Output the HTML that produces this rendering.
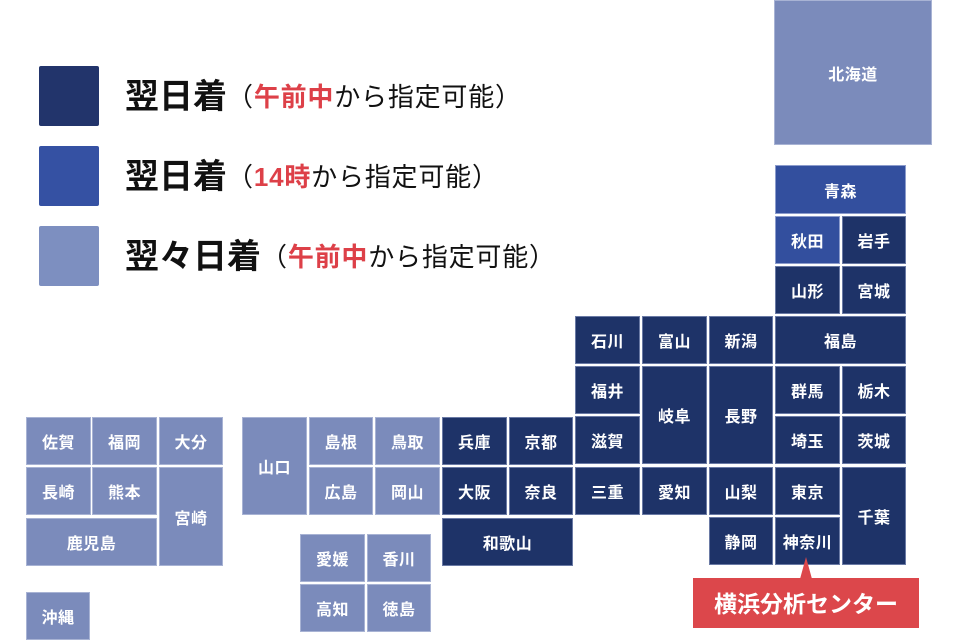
<!DOCTYPE html>
<html><head><meta charset="utf-8"><style>
body{margin:0;width:960px;height:640px;background:#fff;position:relative;overflow:hidden;font-family:"Liberation Sans","Noto Sans CJK JP",sans-serif}
.c{position:absolute;box-sizing:border-box;border:1px solid #a8b3d4;color:#fff;font-weight:bold;font-size:16px;display:flex;align-items:center;justify-content:center;letter-spacing:0.5px}
.d{background:#1e3368;border-color:#6a7aa5}
.m{background:#334f9e;border-color:#8c9ccc}
.l{background:#7b8bbb;border-color:#a8b3d4}
.sq{position:absolute;left:39px;width:60px;height:60px;border-radius:2px}
.lg{position:absolute;left:125px;white-space:nowrap;color:#111;line-height:40px}
.lg b{font-size:34px;font-weight:bold;vertical-align:middle}
.lg span{font-size:26px;vertical-align:middle;letter-spacing:0.8px}
.lg span span{vertical-align:baseline}
.r{color:#dd4048;font-weight:bold}
</style></head><body>
<div class="sq" style="top:66px;background:#22346b"></div>
<div class="sq" style="top:146px;background:#3551a3"></div>
<div class="sq" style="top:226px;background:#7d8fc0"></div>
<div class="lg" style="top:77px"><b>翌日着</b><span>（<span class="r">午前中</span>から指定可能）</span></div>
<div class="lg" style="top:157px"><b>翌日着</b><span>（<span class="r">14時</span>から指定可能）</span></div>
<div class="lg" style="top:237px"><b>翌々日着</b><span>（<span class="r">午前中</span>から指定可能）</span></div>

<div class="c l" style="left:774px;top:0;width:158px;height:145px">北海道</div>
<div class="c m" style="left:775px;top:165px;width:131px;height:49px">青森</div>
<div class="c m" style="left:775px;top:216px;width:65px;height:48px">秋田</div>
<div class="c d" style="left:842px;top:216px;width:64px;height:48px">岩手</div>
<div class="c d" style="left:775px;top:266px;width:65px;height:48px">山形</div>
<div class="c d" style="left:842px;top:266px;width:64px;height:48px">宮城</div>

<div class="c d" style="left:575px;top:316px;width:65px;height:48px">石川</div>
<div class="c d" style="left:642px;top:316px;width:65px;height:48px">富山</div>
<div class="c d" style="left:709px;top:316px;width:64px;height:48px">新潟</div>
<div class="c d" style="left:775px;top:316px;width:131px;height:48px">福島</div>
<div class="c d" style="left:575px;top:366px;width:65px;height:48px">福井</div>
<div class="c d" style="left:642px;top:366px;width:65px;height:98px">岐阜</div>
<div class="c d" style="left:709px;top:366px;width:64px;height:98px">長野</div>
<div class="c d" style="left:775px;top:366px;width:65px;height:48px">群馬</div>
<div class="c d" style="left:842px;top:366px;width:64px;height:48px">栃木</div>
<div class="c d" style="left:575px;top:416px;width:65px;height:48px">滋賀</div>
<div class="c d" style="left:775px;top:416px;width:65px;height:48px">埼玉</div>
<div class="c d" style="left:842px;top:416px;width:64px;height:48px">茨城</div>
<div class="c d" style="left:575px;top:467px;width:65px;height:48px">三重</div>
<div class="c d" style="left:642px;top:467px;width:65px;height:48px">愛知</div>
<div class="c d" style="left:709px;top:467px;width:64px;height:48px">山梨</div>
<div class="c d" style="left:775px;top:467px;width:65px;height:48px">東京</div>
<div class="c d" style="left:842px;top:467px;width:64px;height:98px">千葉</div>
<div class="c d" style="left:709px;top:517px;width:64px;height:48px">静岡</div>
<div class="c d" style="left:775px;top:517px;width:65px;height:48px">神奈川</div>

<div class="c d" style="left:442px;top:417px;width:65px;height:48px">兵庫</div>
<div class="c d" style="left:509px;top:417px;width:64px;height:48px">京都</div>
<div class="c d" style="left:442px;top:467px;width:65px;height:48px">大阪</div>
<div class="c d" style="left:509px;top:467px;width:64px;height:48px">奈良</div>
<div class="c d" style="left:442px;top:518px;width:131px;height:48px">和歌山</div>

<div class="c l" style="left:242px;top:417px;width:65px;height:98px">山口</div>
<div class="c l" style="left:309px;top:417px;width:64px;height:48px">島根</div>
<div class="c l" style="left:375px;top:417px;width:65px;height:48px">鳥取</div>
<div class="c l" style="left:309px;top:467px;width:64px;height:48px">広島</div>
<div class="c l" style="left:375px;top:467px;width:65px;height:48px">岡山</div>
<div class="c l" style="left:300px;top:534px;width:65px;height:48px">愛媛</div>
<div class="c l" style="left:367px;top:534px;width:64px;height:48px">香川</div>
<div class="c l" style="left:300px;top:584px;width:65px;height:48px">高知</div>
<div class="c l" style="left:367px;top:584px;width:64px;height:48px">徳島</div>

<div class="c l" style="left:26px;top:417px;width:65px;height:48px">佐賀</div>
<div class="c l" style="left:92px;top:417px;width:65px;height:48px">福岡</div>
<div class="c l" style="left:159px;top:417px;width:64px;height:48px">大分</div>
<div class="c l" style="left:26px;top:467px;width:65px;height:48px">長崎</div>
<div class="c l" style="left:92px;top:467px;width:65px;height:48px">熊本</div>
<div class="c l" style="left:159px;top:467px;width:64px;height:99px">宮崎</div>
<div class="c l" style="left:26px;top:518px;width:131px;height:48px">鹿児島</div>
<div class="c l" style="left:26px;top:592px;width:64px;height:48px">沖縄</div>

<svg style="position:absolute;left:0;top:0" width="960" height="640">
<polygon points="806,557 800,579 812,579" fill="#dc474b"/>
<rect x="693" y="578" width="226" height="50" fill="#dc474b"/>
<text x="806" y="612" fill="#fff" font-size="23" font-weight="bold" text-anchor="middle" font-family="Liberation Sans, Noto Sans CJK JP, sans-serif">横浜分析センター</text>
</svg>
</body></html>
